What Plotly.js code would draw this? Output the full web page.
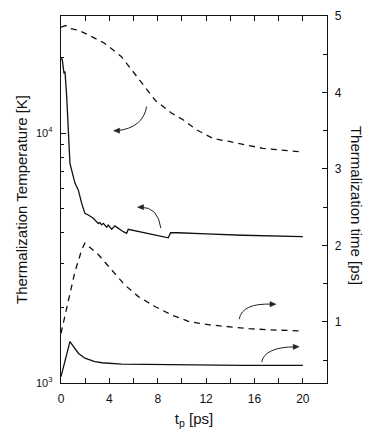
<!DOCTYPE html>
<html>
<head>
<meta charset="utf-8">
<script src="https://cdn.plot.ly/plotly-3.0.1.min.js"></script>
<style>
  html, body { margin: 0; padding: 0; background: #fff; }
  #chart { width: 381px; height: 435px; }
</style>
</head>
<body>
<div id="chart"></div>
<script>
// Thermalization temperature (left axis, log) - dashed and solid
const tpTempDashed = [0, 0.4, 0.74, 1.43, 2.26, 3.64, 5.0, 6.4, 7.8, 9.15, 10.1, 11.2, 12.6, 14.0, 15.3, 16.7, 18.1, 19.5, 20];
const tempDashed = [26500, 26900, 26200, 25800, 24700, 22800, 20200, 16500, 13500, 12000, 11300, 10300, 9500, 9230, 8960, 8680, 8550, 8420, 8400];

const tpTempSolid = [0, 0.1, 0.25, 0.33, 0.47, 0.6, 0.66, 0.74, 1.16, 1.43, 1.71, 1.98, 2.26, 2.67, 3.08, 3.22, 3.36, 3.5, 3.78, 3.91, 4.19, 4.46, 5.15, 5.43, 5.56, 6.53, 8.18, 8.87, 9.07, 9.69, 12, 15, 20];
const tempSolid = [19900, 19700, 17300, 17600, 14000, 10300, 8710, 7560, 6290, 5920, 5230, 4770, 4700, 4560, 4350, 4380, 4290, 4350, 4200, 4280, 4120, 4250, 4030, 3970, 4120, 4030, 3870, 3810, 3990, 3990, 3950, 3900, 3850];

// Thermalization time (right axis) - dashed and solid
const tpTimeDashed = [0, 0.6, 1.16, 1.71, 1.98, 3.08, 4.19, 5.29, 6.4, 7.77, 9.15, 10.1, 10.66, 12.3, 13.97, 15.6, 17.3, 19.75, 20];
const timeDashed = [0.85, 1.27, 1.66, 1.94, 2.03, 1.88, 1.68, 1.48, 1.33, 1.2, 1.09, 1.03, 1.0, 0.96, 0.93, 0.91, 0.895, 0.88, 0.88];

const tpTimeSolid = [0, 0.74, 1.43, 1.98, 2.8, 3.4, 5.0, 7.77, 10.1, 15, 20];
const timeSolid = [0.285, 0.74, 0.59, 0.525, 0.48, 0.465, 0.447, 0.44, 0.435, 0.43, 0.43];

// ticks
const xTicks = [0, 4, 8, 12, 16, 20];
const tempTicks = [1000, 10000];
const tempTickText = ['10<sup>3</sup>', '10<sup>4</sup>'];
const tempMinor = [2000, 3000, 4000, 5000, 6000, 7000, 8000, 9000, 20000];
const timeTicks = [1, 2, 3, 4, 5];
const timeMinor = [0.5, 1.5, 2.5, 3.5, 4.5];

const ink = '#111';
const font = 'Liberation Sans, Arial, sans-serif';
const dashPat = '6px,5px';

const xRange = [0, 22];
const y2Range = [0.2, 5];
const W = 381, H = 435;
const margin = {l: 61, r: 54, t: 16, b: 52, pad: 0};
// pixel -> data factors for the arrow heads
const pxX = (xRange[1] - xRange[0]) / (W - margin.l - margin.r);
const pxY = (y2Range[1] - y2Range[0]) / (H - margin.t - margin.b);

let traces = [
    {x: tpTempDashed, y: tempDashed, yaxis: 'y', mode: 'lines', line: {color: ink, width: 1.3, dash: dashPat}},
    {x: tpTempSolid, y: tempSolid, yaxis: 'y', mode: 'lines', line: {color: ink, width: 1.3}},
    {x: tpTimeDashed, y: timeDashed, yaxis: 'y2', mode: 'lines', line: {color: ink, width: 1.3, dash: dashPat}},
    {x: tpTimeSolid, y: timeSolid, yaxis: 'y2', mode: 'lines', line: {color: ink, width: 1.3}}
];

// curved arrows (x / y2 units) and where their heads point (-1 left, 1 right)
let arrowPaths = [
    'M7.08,3.815 Q6.78,3.536 4.63,3.50',
    'M8.26,2.225 Q8.02,2.503 6.61,2.499',
    'M14.74,1.035 Q14.96,1.248 17.5,1.231',
    'M16.59,0.473 Q16.86,0.673 19.42,0.673'
];
let arrowTips = [
    {x: 4.35, y: 3.50, dir: -1},
    {x: 6.33, y: 2.50, dir: -1},
    {x: 17.78, y: 1.231, dir: 1},
    {x: 19.7, y: 0.673, dir: 1}
];

let shapes = arrowPaths.map(p => ({
    type: 'path', xref: 'x', yref: 'y2', path: p,
    line: {color: '#222', width: 1}
}));

arrowTips.forEach(a => {
    let bx = a.x - a.dir * 6 * pxX;
    let h = 2.6 * pxY;
    shapes.push({
        type: 'path', xref: 'x', yref: 'y2',
        path: 'M' + a.x + ',' + a.y + ' L' + bx + ',' + (a.y + h) + ' L' + bx + ',' + (a.y - h) + ' Z',
        fillcolor: '#222', line: {color: '#222', width: 0.5}
    });
});

let annotations = [{
    text: 'Thermalization time [ps]',
    xref: 'paper', yref: 'paper', x: 1.113, y: 0.485,
    xanchor: 'center', yanchor: 'middle', textangle: 90, showarrow: false,
    font: {family: font, size: 15, color: ink}
}];

let layout = {
    width: W,
    height: H,
    margin: margin,
    paper_bgcolor: '#fff',
    plot_bgcolor: '#fff',
    showlegend: false,
    font: {family: font, size: 12, color: ink},
    xaxis: {
        range: xRange,
        tickvals: xTicks,
        ticks: 'inside', ticklen: 5, tickwidth: 1, tickcolor: ink,
        minor: {dtick: 2, tick0: 0, ticks: 'inside', ticklen: 4, tickcolor: ink},
        showline: true, linecolor: ink, linewidth: 1.3,
        mirror: 'allticks',
        showgrid: false, zeroline: false,
        ticklabelstandoff: 4,
        title: {text: 't<sub>p</sub> [ps]', font: {family: font, size: 15, color: ink}, standoff: 8}
    },
    yaxis: {
        type: 'log',
        range: [3, 4.468],
        tickvals: tempTicks, ticktext: tempTickText,
        ticks: 'inside', ticklen: 5, tickwidth: 1, tickcolor: ink,
        minor: {tickvals: tempMinor, ticks: 'inside', ticklen: 3, tickcolor: ink},
        showline: true, linecolor: ink, linewidth: 1.3,
        showgrid: false, zeroline: false,
        tickfont: {size: 11},
        ticklabelstandoff: 5,
        title: {text: 'Thermalization Temperature [K]', font: {family: font, size: 15, color: ink}, standoff: 4}
    },
    yaxis2: {
        overlaying: 'y',
        side: 'right',
        range: y2Range,
        tickvals: timeTicks,
        ticks: 'inside', ticklen: 5, tickwidth: 1, tickcolor: ink,
        minor: {tickvals: timeMinor, ticks: 'inside', ticklen: 4, tickcolor: ink},
        showline: true, linecolor: ink, linewidth: 1.3,
        showgrid: false, zeroline: false,
        ticklabelstandoff: 4
    },
    shapes: shapes,
    annotations: annotations
};

Plotly.newPlot('chart', traces, layout, {displayModeBar: false, staticPlot: true});
</script>
</body>
</html>
